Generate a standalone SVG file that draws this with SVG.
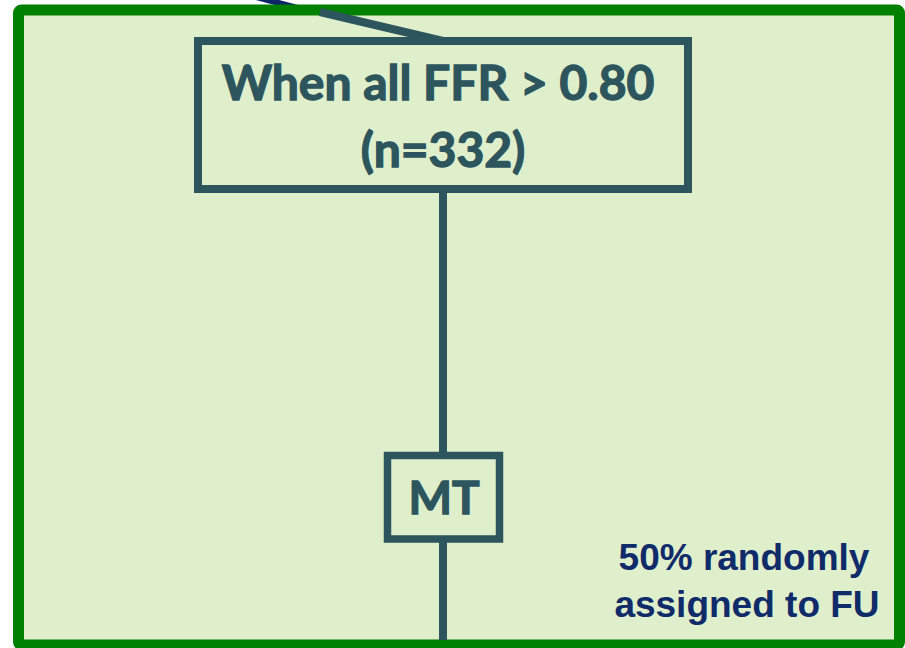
<svg xmlns="http://www.w3.org/2000/svg" width="905" height="648" viewBox="0 0 905 648">
  <style>
    .panel { fill: #DFEFCB; stroke: #008000; stroke-width: 11; }
    .box { fill: none; stroke: #2D555D; stroke-width: 8; }
    .link { fill: none; stroke: #2D555D; stroke-width: 8; }
    .incoming { fill: none; stroke: #0B2566; stroke-width: 6; }
    .label { font-family: Lato, "Open Sans", "Liberation Sans", sans-serif; font-weight: bold; fill: #2D555D; stroke: #2D555D; stroke-width: 1.3; text-anchor: middle; }
    .note { font-family: "Liberation Sans", Arial, sans-serif; font-weight: bold; fill: #0F2B69; text-anchor: middle; font-size: 37px; }
  </style>

  <!-- incoming connector from above, passing under the panel border -->
  <line class="incoming" x1="245" y1="-6" x2="320" y2="14"/>

  <!-- background panel -->
  <rect id="panel" class="panel" x="18.5" y="10" width="881" height="635" rx="3"/>

  <!-- connectors -->
  <g id="connectors">
    <line class="link" x1="320" y1="12" x2="443" y2="41"/>
    <line class="link" x1="443" y1="189" x2="443" y2="455"/>
    <line class="link" x1="443" y1="539" x2="443" y2="640"/>
  </g>

  <!-- FFR box -->
  <g id="node-ffr">
    <rect class="box" x="198" y="41" width="490" height="148"/>
    <text class="label" x="438" y="100" font-size="48">When all FFR &gt; 0.80</text>
    <text class="label" x="443" y="167" font-size="48">(n=332)</text>
  </g>

  <!-- MT box -->
  <g id="node-mt">
    <rect class="box" x="387.5" y="455.5" width="112" height="83.5" style="stroke-width:7.5"/>
    <text class="label" x="444" y="514" font-size="46">MT</text>
  </g>

  <!-- annotation -->
  <g id="note-fu">
    <text class="note" x="744" y="570">50% randomly</text>
    <text class="note" x="747" y="617">assigned to FU</text>
  </g>
</svg>
